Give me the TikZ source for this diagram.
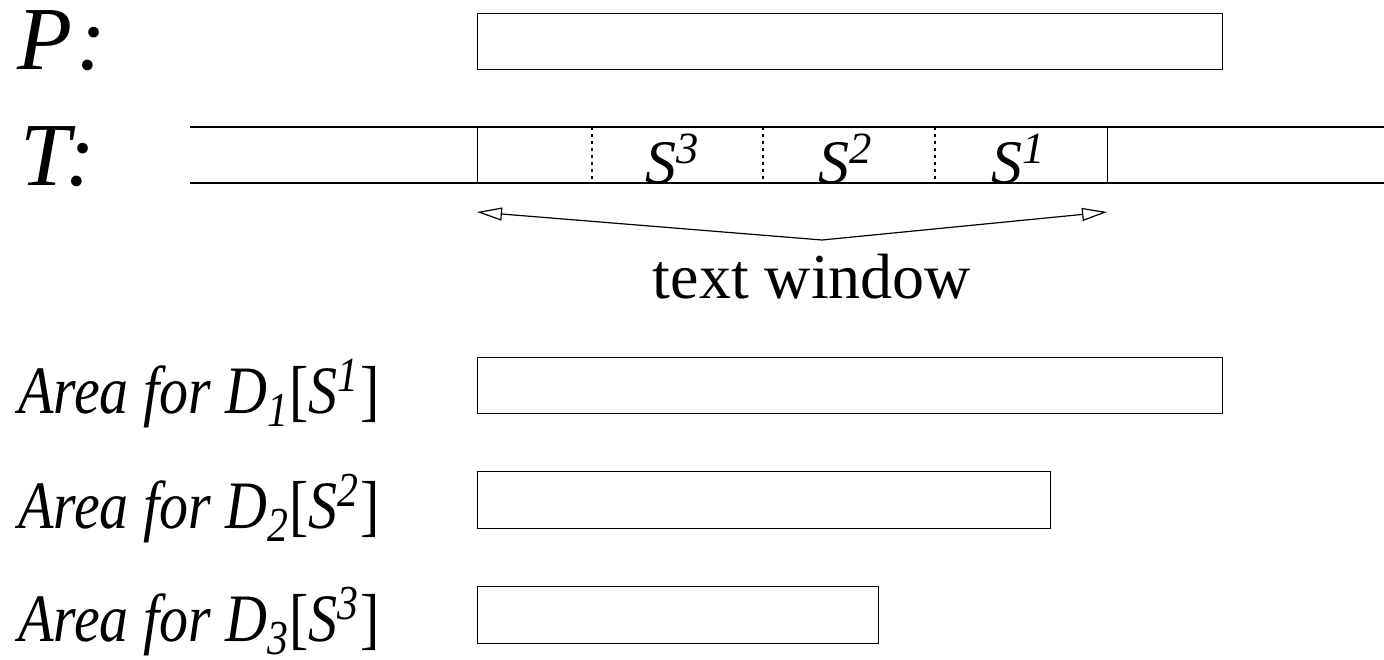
\documentclass[tikz,border=0pt]{standalone}
\usepackage{fontspec}
\setmainfont{Liberation Serif}
\usetikzlibrary{arrows.meta}
% raised and lowered indices set in the running font
\newcommand{\hi}[1]{\raisebox{0.32em}{\scalebox{0.72}{#1}}}
\newcommand{\lo}[1]{\raisebox{-0.2em}{\scalebox{0.72}{#1}}}
\newcommand{\arealabel}[1]{\scalebox{1}[1.17]{Area for D\lo{#1}\kern1pt\textup{[}S\hi{#1}\kern2pt\textup{]}}}
\tikzset{
  frame/.style={draw, line width=1.2pt, inner sep=0pt, anchor=north west},
  rule/.style={line width=1.2pt},
  sep/.style={line width=1.1pt, dash pattern=on 3pt off 4pt},
  bigname/.style={anchor=base west, inner sep=0pt, font=\fontsize{90}{100}\selectfont\itshape},
  seg/.style={anchor=base, inner sep=0pt, font=\fontsize{62}{70}\selectfont\itshape},
  area/.style={anchor=base west, inner sep=0pt, font=\fontsize{58}{66}\selectfont\itshape},
  caption/.style={anchor=base, inner sep=0pt, font=\fontsize{64}{72}\selectfont},
  span/.style={line width=1.2pt, {Triangle[open, length=25pt, width=13pt]}-{Triangle[open, length=25pt, width=13pt]}}
}
\begin{document}
\begin{tikzpicture}[x=1pt, y=-1pt]
  \useasboundingbox (0,0) rectangle (1384,659);

  % pattern P
  \node[bigname] (Plab) at (17,69) {P\kern4pt:};
  \node[frame, minimum width=745pt, minimum height=56pt] (Pbox) at (477,13) {};

  % text T with its window
  \node[bigname] (Tlab) at (20,185) {T:};
  \coordinate (Ttl) at (190,127);
  \coordinate (Ttr) at (1384,127);
  \coordinate (Tbl) at (190,183);
  \coordinate (Tbr) at (1384,183);
  \draw[rule] (Ttl) -- (Ttr);
  \draw[rule] (Tbl) -- (Tbr);
  \node[frame, minimum width=630pt, minimum height=56pt] (win) at (477,127) {};
  \foreach \x/\n in {592/a,763/b,935/c}{
    \coordinate (d\n t) at (\x,127);
    \coordinate (d\n b) at (\x,183);
    \draw[sep] (d\n t) -- (d\n b);
  }
  \node[seg] (S3) at (672,183) {S\hi{3}};
  \node[seg] (S2) at (845,183) {S\hi{2}};
  \node[seg] (S1) at (1018,183) {S\hi{1}};

  % window span
  \coordinate (aL) at (477,212);
  \coordinate (aM) at (822,240);
  \coordinate (aR) at (1107,212);
  \draw[span] (aL) -- (aM) -- (aR);
  \node[caption] (cap) at (812,298) {text window};

  % areas for the three segments
  \node[area] (A1) at (18,413) {\arealabel{1}};
  \node[area] (A2) at (18,528) {\arealabel{2}};
  \node[area] (A3) at (18,641) {\arealabel{3}};
  \node[frame, minimum width=745pt, minimum height=56pt] (B1) at (477,357) {};
  \node[frame, minimum width=573pt, minimum height=57pt] (B2) at (477,471) {};
  \node[frame, minimum width=401pt, minimum height=57pt] (B3) at (477,586) {};
\end{tikzpicture}
\end{document}
